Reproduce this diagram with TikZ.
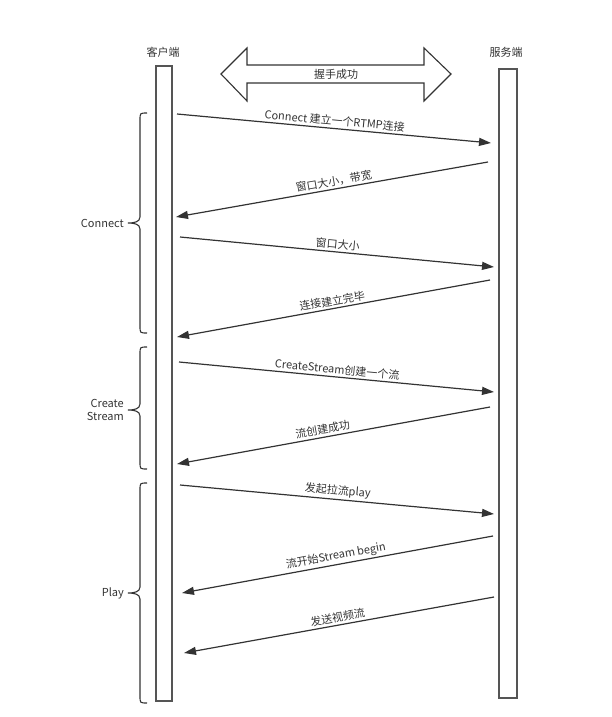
\documentclass[tikz,border=0pt]{standalone}
\usepackage{fontspec}
\setmainfont{Noto Sans CJK SC}
\usetikzlibrary{arrows.meta}
\definecolor{ln}{HTML}{333333}
\definecolor{tx}{HTML}{333333}
\definecolor{bar}{HTML}{555555}
\begin{document}
\begin{tikzpicture}[x=1pt,y=-1pt,
  every node/.style={font=\fontsize{11}{13}\selectfont, text=tx},
  lifebar/.style={draw=bar, line width=1.6pt, fill=white, inner sep=0pt, minimum width=#1},
  msg/.style={draw=ln, line width=1.2pt, -{Triangle[length=12pt,width=8pt]}},
  lbl/.style={sloped, above, midway, inner sep=2pt},
  brc/.style={draw=ln, line width=1.1pt},
  grp/.style={align=right, anchor=east, inner sep=0pt}]
\useasboundingbox (0,0) rectangle (611,717);

% lifelines
\node[lifebar=16pt, minimum height=635pt] (cli) at (164,383.5) {};
\node[lifebar=18pt, minimum height=629pt] (srv) at (508,383.5) {};
\node (clit) at (163,52) {客户端};
\node (srvt) at (506,52) {服务端};

% handshake double arrow
\draw[draw=ln, line width=1.1pt, fill=white] (221,74) -- (247,48) -- (247,65) -- (424,65) -- (424,48) -- (451,74) -- (424,101) -- (424,83) -- (247,83) -- (247,101) -- cycle;
\node (hs) at (336,74) {握手成功};

% endpoints
\coordinate (a1) at (177,114);  \coordinate (b1) at (491,143);
\coordinate (a2) at (488,162);  \coordinate (b2) at (176,217);
\coordinate (a3) at (180,237);  \coordinate (b3) at (494,267);
\coordinate (a4) at (490,280);  \coordinate (b4) at (177,337);
\coordinate (a5) at (179,362);  \coordinate (b5) at (494,392);
\coordinate (a6) at (490,407);  \coordinate (b6) at (177,464);
\coordinate (a7) at (180,485);  \coordinate (b7) at (494,514);
\coordinate (a8) at (493,536);  \coordinate (b8) at (182,593);
\coordinate (a9) at (494,597);  \coordinate (b9) at (184,653);

\draw[msg] (a1) -- node[lbl] (l1) {Connect 建立一个RTMP连接} (b1);
\draw[msg] (a2) -- node[lbl, pos=0.49] (l2) {窗口大小，带宽} (b2);
\draw[msg] (a3) -- node[lbl] (l3) {窗口大小} (b3);
\draw[msg] (a4) -- node[lbl] (l4) {连接建立完毕} (b4);
\draw[msg] (a5) -- node[lbl] (l5) {CreateStream创建一个流} (b5);
\draw[msg] (a6) -- node[lbl, pos=0.53] (l6) {流创建成功} (b6);
\draw[msg] (a7) -- node[lbl] (l7) {发起拉流play} (b7);
\draw[msg] (a8) -- node[lbl] (l8) {流开始Stream begin} (b8);
\draw[msg] (a9) -- node[lbl] (l9) {发送视频流} (b9);

% braces
\newcommand{\grpbrace}[3]{%
  \draw[brc] (147,#1) .. controls (140,#1) .. (140,#1+7) -- (140,#2-6)
    .. controls (140,#2-1) and (134,#2) .. (128,#2)
    .. controls (134,#2) and (140,#2+1) .. (140,#2+6) -- (140,#3-7)
    .. controls (140,#3) .. (147,#3);}
\grpbrace{113}{223}{333}
\grpbrace{347}{410}{469}
\grpbrace{483}{593}{703}
\node[grp] (g1) at (124,223) {Connect};
\node[grp] (g2) at (124,410) {Create\\Stream};
\node[grp] (g3) at (124,593) {Play};
\end{tikzpicture}
\end{document}
